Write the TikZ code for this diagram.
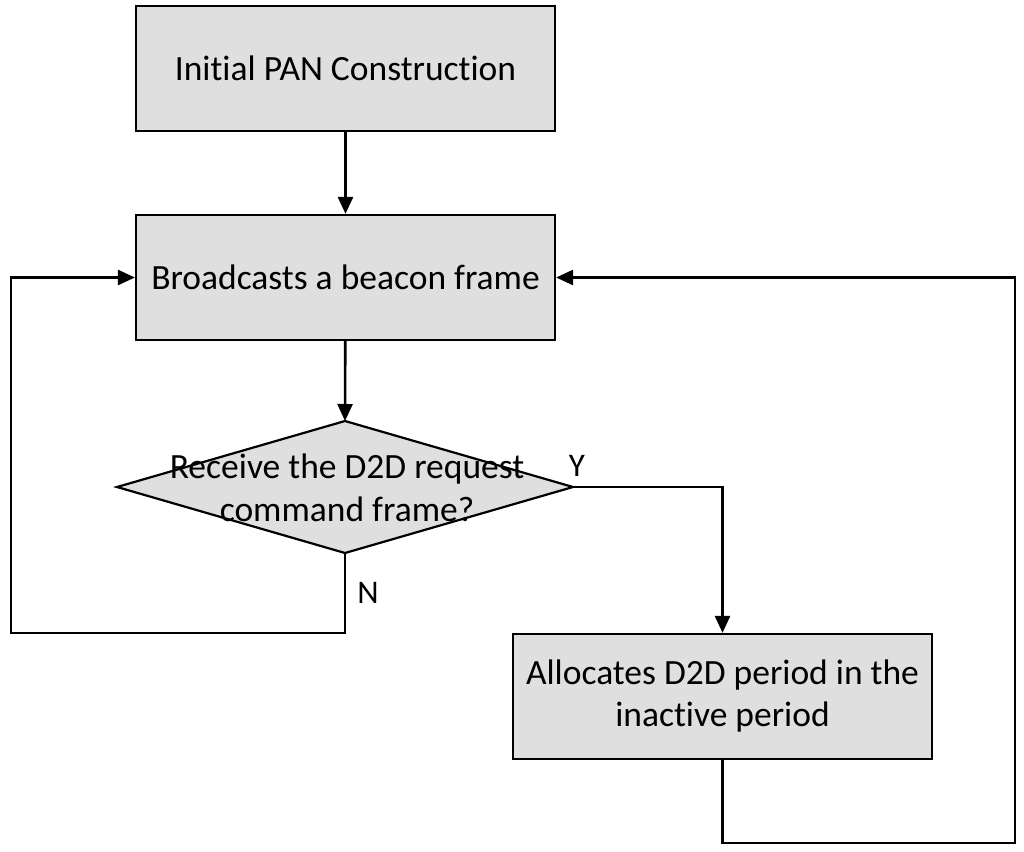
\documentclass[tikz,border=0pt]{standalone}
\usepackage{fontspec}
\setmainfont{Carlito}[Ligatures={NoCommon,NoRequired,NoContextual}]
\usetikzlibrary{arrows.meta}
\begin{document}
\begin{tikzpicture}[x=1pt,y=-1pt,
  box/.style={draw,line width=2.2pt,fill=gray!25,minimum width=419pt,minimum height=125pt,align=center,font=\fontsize{35.5}{42}\selectfont,inner sep=0},
  arr/.style={line width=2.6pt,-{Triangle[length=17pt,width=15pt]}},
  lbl/.style={font=\fontsize{33}{40}\selectfont}]
\useasboundingbox (0,0) rectangle (1024,851);
\node[box] (b1) at (345.5,68.5) {Initial PAN Construction};
\node[box] (b2) at (345.5,277.5) {Broadcasts a beacon frame};
\node[box] (b3) at (722.5,696.5) {Allocates D2D period in the\\inactive period};
\coordinate (dT) at (345,421);
\coordinate (dB) at (345,553);
\coordinate (dL) at (117,487);
\coordinate (dR) at (573,487);
\draw[line width=2.2pt,fill=gray!25] (dT) -- (dR) -- (dB) -- (dL) -- cycle;
\node[font=\fontsize{35.5}{43}\selectfont,align=center] (dt) at (347,488) {Receive the D2D request\\command frame?};
\draw[arr] (b1) -- (b2);
\draw[arr] (b2) -- (dT);
\draw[arr] (dR) -| (b3.north);
\coordinate (lc) at (11,633);
\draw[arr] (dB) -- (345,633) -- (lc) |- (b2.west);
\coordinate (rc) at (1015,843);
\draw[arr] (b3.south) |- (rc) |- (b2.east);
\node[lbl] (y) at (577,466) {Y};
\node[lbl] (n) at (368,593) {N};
\end{tikzpicture}
\end{document}
